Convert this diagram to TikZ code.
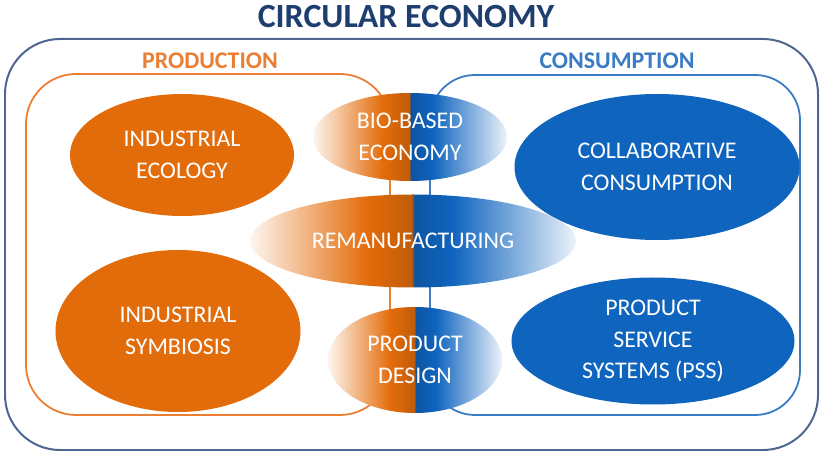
\documentclass[tikz,border=0pt]{standalone}
\usepackage{fontspec}
\setmainfont{Carlito}
\usetikzlibrary{shapes.geometric}

\definecolor{ceorange}{HTML}{E36C0A}
\definecolor{ceblue}{HTML}{0F64BE}
\definecolor{prodline}{HTML}{EB7E32}
\definecolor{consline}{HTML}{3A7CC4}
\definecolor{outerline}{HTML}{4E6690}
\definecolor{titlecol}{HTML}{1F3E70}

\pgfdeclarehorizontalshading{prodcons}{100bp}{color(0bp)=(ceorange!6); color(25bp)=(ceorange!6); color(43bp)=(ceorange); color(49.8bp)=(ceorange!85!black); color(50.2bp)=(ceblue!85!black); color(56bp)=(ceblue); color(75bp)=(ceblue!8); color(100bp)=(ceblue!8)}

\tikzset{
  blob/.style={ellipse, inner sep=0pt, text=white, align=center,
    font=\fontsize{24}{32}\selectfont},
  orangeblob/.style={blob, fill=ceorange},
  blueblob/.style={blob, fill=ceblue},
  mixblob/.style={blob, shading=prodcons},
}

\begin{document}
\begin{tikzpicture}[x=1bp,y=-1bp]
  \useasboundingbox (0,0) rectangle (824,453);
  % frames
  \draw[outerline, line width=2pt, rounded corners=55bp] (5,39) rectangle (818,450);
  \draw[prodline, line width=1.8pt, rounded corners=50bp] (26,74) rectangle (390,415);
  \draw[consline, line width=1.8pt, rounded corners=45bp] (430,75) rectangle (800,415);
  % headings
  \node[text=titlecol, font=\fontsize{34}{40}\selectfont\bfseries] (title) at (406,17) {CIRCULAR ECONOMY};
  \node[text=prodline, font=\fontsize{24}{28}\selectfont\bfseries] (prod) at (210,61) {PRODUCTION};
  \node[text=consline, font=\fontsize{24}{28}\selectfont\bfseries] (cons) at (617,61) {CONSUMPTION};
  % production side
  \node[orangeblob, minimum width=224bp, minimum height=122bp] (ecol) at (182,155) {INDUSTRIAL\\ECOLOGY};
  \node[orangeblob, minimum width=245bp, minimum height=162bp] (symb) at (178,331) {INDUSTRIAL\\SYMBIOSIS};
  % consumption side
  \node[blueblob, minimum width=285bp, minimum height=146bp] (collab) at (657,167) {COLLABORATIVE\\CONSUMPTION};
  \node[blueblob, minimum width=283bp, minimum height=127bp] (pss) at (653,341) {PRODUCT\\SERVICE\\SYSTEMS (PSS)};
  % in between
  \node[mixblob, minimum width=194bp, minimum height=88bp] (bio) at (410,137) {BIO-BASED\\ECONOMY};
  \node[mixblob, minimum width=326bp, minimum height=93bp] (reman) at (413,241) {REMANUFACTURING};
  \node[mixblob, minimum width=174bp, minimum height=106bp] (design) at (415,360) {PRODUCT\\DESIGN};
\end{tikzpicture}
\end{document}
